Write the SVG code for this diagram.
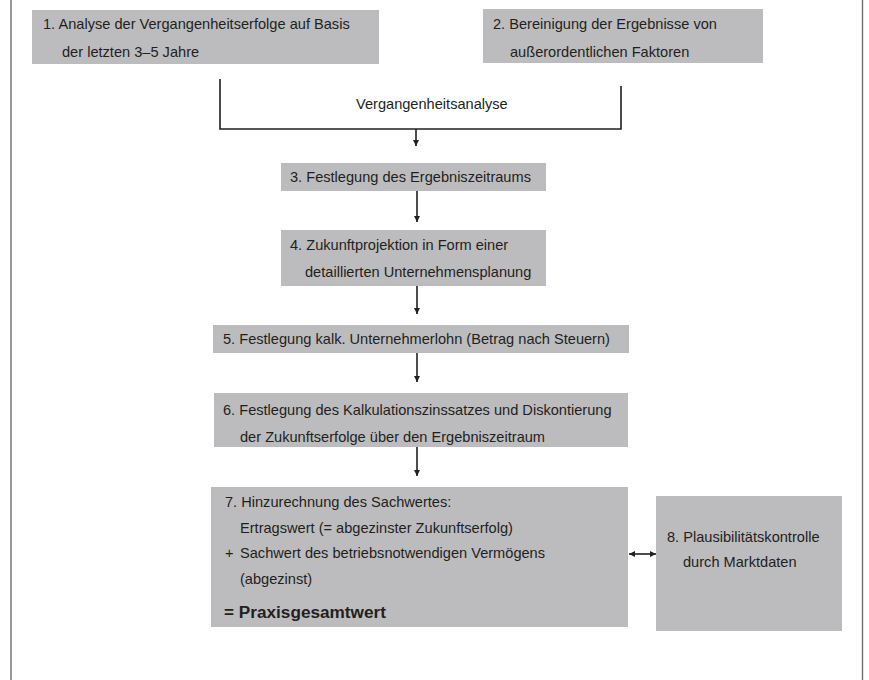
<svg xmlns="http://www.w3.org/2000/svg" width="869" height="680" viewBox="0 0 869 680">
<style>
  .box { fill: #bcbcbe; }
  .t { font-family: "Liberation Sans", Arial, sans-serif; font-size: 14.6px; fill: #231f20; }
  .b { font-family: "Liberation Sans", Arial, sans-serif; font-size: 17.2px; font-weight: bold; fill: #231f20; }
  .ln { stroke: #231f20; stroke-width: 1.6; fill: none; }
  .fr { stroke: #6d6d6d; stroke-width: 1.4; fill: none; }
</style>
<defs>
  <marker id="ah" viewBox="0 0 10 10" refX="10" refY="5" markerWidth="6" markerHeight="6" markerUnits="userSpaceOnUse" orient="auto-start-reverse">
    <path d="M0,0 L10,5 L0,10 z" fill="#231f20"/>
  </marker>
</defs>
<rect width="869" height="680" fill="#ffffff"/>
<g id="frame">
  <line class="fr" x1="11" y1="0" x2="11" y2="680"/>
  <line class="fr" x1="862.5" y1="0" x2="862.5" y2="680"/>
</g>
<g id="n1">
  <rect class="box" x="32" y="10" width="347" height="54"/>
  <text class="t" x="43" y="29">1. Analyse der Vergangenheitserfolge auf Basis</text>
  <text class="t" x="62" y="57">der letzten 3–5 Jahre</text>
</g>
<g id="n2">
  <rect class="box" x="483" y="9" width="280" height="54"/>
  <text class="t" x="493" y="29">2. Bereinigung der Ergebnisse von</text>
  <text class="t" x="510" y="57">außerordentlichen Faktoren</text>
</g>
<g id="n3">
  <rect class="box" x="281" y="163" width="265" height="28"/>
  <text class="t" x="290" y="182">3. Festlegung des Ergebniszeitraums</text>
</g>
<g id="n4">
  <rect class="box" x="281" y="230" width="265" height="56"/>
  <text class="t" x="290" y="250">4. Zukunftprojektion in Form einer</text>
  <text class="t" x="305" y="277">detaillierten Unternehmensplanung</text>
</g>
<g id="n5">
  <rect class="box" x="213" y="325" width="416" height="28"/>
  <text class="t" x="223" y="344">5. Festlegung kalk. Unternehmerlohn (Betrag nach Steuern)</text>
</g>
<g id="n6">
  <rect class="box" x="214" y="393" width="414" height="54"/>
  <text class="t" x="223" y="415">6. Festlegung des Kalkulationszinssatzes und Diskontierung</text>
  <text class="t" x="240" y="442">der Zukunftserfolge über den Ergebniszeitraum</text>
</g>
<g id="n7">
  <rect class="box" x="211" y="487" width="417" height="140"/>
  <text class="t" x="225" y="507">7. Hinzurechnung des Sachwertes:</text>
  <text class="t" x="240" y="533">Ertragswert (= abgezinster Zukunftserfolg)</text>
  <text class="t" x="225" y="558">+</text>
  <text class="t" x="240" y="558">Sachwert des betriebsnotwendigen Vermögens</text>
  <text class="t" x="240" y="584">(abgezinst)</text>
  <text class="b" x="224" y="618">= Praxisgesamtwert</text>
</g>
<g id="n8">
  <rect class="box" x="656" y="496" width="186" height="135"/>
  <text class="t" x="667" y="542">8. Plausibilitätskontrolle</text>
  <text class="t" x="683" y="567">durch Marktdaten</text>
</g>
<g id="connectors">
  <path class="ln" d="M220,79 V129 H621 V86"/>
  <text class="t" x="356" y="109">Vergangenheitsanalyse</text>
  <line class="ln" x1="416" y1="129" x2="416" y2="146" marker-end="url(#ah)"/>
  <line class="ln" x1="417" y1="191" x2="417" y2="222" marker-end="url(#ah)"/>
  <line class="ln" x1="417" y1="286" x2="417" y2="314" marker-end="url(#ah)"/>
  <line class="ln" x1="417" y1="353" x2="417" y2="382" marker-end="url(#ah)"/>
  <line class="ln" x1="417" y1="447" x2="417" y2="476" marker-end="url(#ah)"/>
  <line class="ln" x1="629" y1="554" x2="656" y2="554" marker-start="url(#ah)" marker-end="url(#ah)"/>
</g>
</svg>
